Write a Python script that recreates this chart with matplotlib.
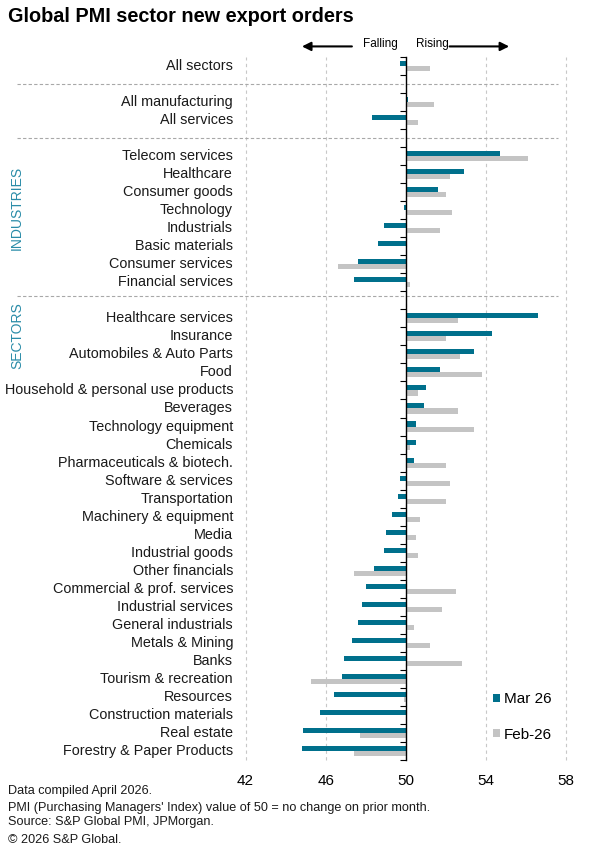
import numpy as np
import matplotlib
matplotlib.use("Agg")
import matplotlib.pyplot as plt
import matplotlib.transforms as mtransforms

plt.rcParams['font.family'] = ['Liberation Sans', 'DejaVu Sans']

TEAL = "#00708c"
GREY = "#c4c4c4"
LABEL_TEAL = "#2a8ca8"

# --- data (PMI values) ---
summary_cats = ["All sectors"]
summary_mar = [49.7]
summary_feb = [51.2]

broad_cats = ["All manufacturing", "All services"]
broad_mar = [50.1, 48.3]
broad_feb = [51.4, 50.6]

industry_cats = ["Telecom services", "Healthcare", "Consumer goods", "Technology",
                 "Industrials", "Basic materials", "Consumer services", "Financial services"]
industry_mar = [54.7, 52.9, 51.6, 49.9, 48.9, 48.6, 47.6, 47.4]
industry_feb = [56.1, 52.2, 52.0, 52.3, 51.7, 50.05, 46.6, 50.2]

sector_cats = ["Healthcare services", "Insurance", "Automobiles & Auto Parts", "Food",
               "Household & personal use products", "Beverages", "Technology equipment",
               "Chemicals", "Pharmaceuticals & biotech.", "Software & services",
               "Transportation", "Machinery & equipment", "Media", "Industrial goods",
               "Other financials", "Commercial & prof. services", "Industrial services",
               "General industrials", "Metals & Mining", "Banks", "Tourism & recreation",
               "Resources", "Construction materials", "Real estate", "Forestry & Paper Products"]
sector_mar = [56.6, 54.3, 53.4, 51.7, 51.0, 50.9, 50.5, 50.5, 50.4, 49.7,
              49.6, 49.3, 49.0, 48.9, 48.4, 48.0, 47.8, 47.6, 47.3, 46.9,
              46.8, 46.4, 45.7, 44.85, 44.8]
sector_feb = [52.6, 52.0, 52.7, 53.8, 50.6, 52.6, 53.4, 50.2, 52.0, 52.2,
              52.0, 50.7, 50.5, 50.6, 47.4, 52.5, 51.8, 50.4, 51.2, 52.8,
              45.25, 49.9, 50.0, 47.7, 47.4]

x_ticks = [42, 46, 50, 54, 58]

# --- layout: one slot per row, blank slots between the groups ---
cats = summary_cats + broad_cats + industry_cats + sector_cats
mar = np.array(summary_mar + broad_mar + industry_mar + sector_mar)
feb = np.array(summary_feb + broad_feb + industry_feb + sector_feb)
pos = np.array([0] + [2, 3] + list(range(5, 13)) + list(range(14, 39)), dtype=float)
n_slots = 39

fig = plt.figure(figsize=(5.92, 8.49), dpi=100)
ax = fig.add_axes([0.4147, 0.1048, 0.5414, 0.8281])

h = 0.28
ax.barh(pos - h / 2, mar - 50, left=50, height=h, color=TEAL, label="Mar 26", zorder=2)
ax.barh(pos + h / 2, feb - 50, left=50, height=h, color=GREY, label="Feb-26", zorder=2)

ax.set_xlim(42, 58)
ax.set_ylim(n_slots - 0.5, -0.5)
ax.set_xticks(x_ticks)
ax.tick_params(axis='x', length=0, labelsize=11, pad=10)
ax.grid(axis='x', linestyle=(0, (3, 3)), color='#c8c8c8', linewidth=0.8)
for gl in ax.xaxis.get_gridlines():
    gl.set_clip_on(False)
ax.set_axisbelow(True)

for s in ['top', 'right', 'bottom']:
    ax.spines[s].set_visible(False)
ax.spines['left'].set_position(('data', 50))
ax.spines['left'].set_linewidth(1.0)
ax.spines['left'].set_zorder(3)
ax.set_yticks([])
ax.set_yticks(np.arange(-0.5, n_slots, 1), minor=True)
ax.tick_params(axis='y', which='minor', length=4, width=0.8, direction='out')

# category labels to the left of the plot area
trans = mtransforms.blended_transform_factory(ax.transAxes, ax.transData)
for c, p in zip(cats, pos):
    ax.text(-0.039, p, c, transform=trans, ha='right', va='center', fontsize=10.35, color='#1a1a1a')

# group separators
for y in [1, 4, 12.75]:
    ax.axhline(y, xmin=(17 - 245.5) / 320.5, xmax=(558 - 245.5) / 320.5,
               color='#a8a8a8', linestyle=(0, (3, 2)), linewidth=0.8, clip_on=False)

fig.text(17 / 592, 1 - 208 / 849, "INDUSTRIES", rotation=90, ha='center', va='center',
         color=LABEL_TEAL, fontsize=10)
fig.text(17 / 592, 1 - 336 / 849, "SECTORS", rotation=90, ha='center', va='center',
         color=LABEL_TEAL, fontsize=10)

# falling / rising arrows
ty = 1.015
ax.annotate("", xy=(44.68, ty), xytext=(47.45, ty), xycoords=('data', 'axes fraction'),
            arrowprops=dict(arrowstyle='-|>', color='black', lw=1.5, mutation_scale=13),
            annotation_clip=False)
ax.annotate("", xy=(55.3, ty), xytext=(52.05, ty), xycoords=('data', 'axes fraction'),
            arrowprops=dict(arrowstyle='-|>', color='black', lw=1.5, mutation_scale=13),
            annotation_clip=False)
ax.text(49.6, ty + 0.003, "Falling", transform=ax.get_xaxis_transform(), ha='right', va='center',
        fontsize=8.5)
ax.text(50.5, ty + 0.003, "Rising", transform=ax.get_xaxis_transform(), ha='left', va='center',
        fontsize=8.5)

ax.legend(loc='center left', bbox_to_anchor=(0.772, 0.061), frameon=False, fontsize=11,
          handlelength=0.45, handleheight=0.45, handletextpad=0.25, labelspacing=1.4,
          borderpad=0, borderaxespad=0)

fig.text(8 / 592, 1 - 16 / 849, "Global PMI sector new export orders", fontsize=14.3,
         fontweight='bold', ha='left', va='center')

notes = [("Data compiled April 2026.", 791),
         ("PMI (Purchasing Managers' Index) value of 50 = no change on prior month.", 808),
         ("Source: S&P Global PMI, JPMorgan.", 822),
         ("\u00a9 2026 S&P Global.", 840)]
for t, y in notes:
    fig.text(8 / 592, 1 - y / 849, t, fontsize=9.1, ha='left', va='center', color='#1a1a1a')

fig.savefig("out.png", dpi=100)
